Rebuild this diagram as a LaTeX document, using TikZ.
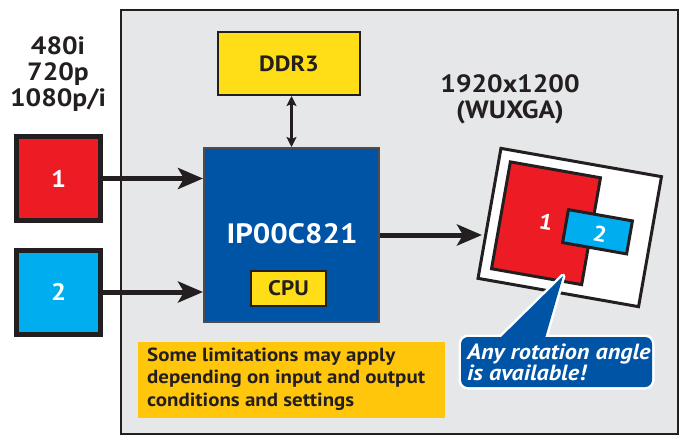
\documentclass[tikz,border=0pt]{standalone}
\usepackage{fontspec}
\setmainfont{PT Sans}[FakeStretch=1.1]
\usetikzlibrary{arrows.meta,calc}
\definecolor{ink}{HTML}{231F20}
\definecolor{panelgray}{HTML}{E6E7E8}
\definecolor{boxred}{HTML}{ED1C24}
\definecolor{boxcyan}{HTML}{00AEEF}
\definecolor{chipblue}{HTML}{0054A6}
\definecolor{memyellow}{HTML}{FFDE17}
\definecolor{noteyellow}{HTML}{FFC60B}
\tikzset{
  panelbox/.style={draw=ink, line width=2pt, fill=panelgray, inner sep=0pt},
  srcbox/.style={draw=ink, line width=5pt, inner sep=0pt, minimum width=84pt, minimum height=84pt,
     text=white, font=\fontsize{24}{24}\selectfont\bfseries},
  chipbox/.style={draw=ink!80, line width=2pt, fill=chipblue, inner sep=0pt},
  membox/.style={draw=ink, line width=2pt, fill=memyellow, inner sep=0pt, text=ink},
  dispbox/.style={draw=ink, line width=3pt, inner sep=0pt},
  bigarrow/.style={draw=ink, line width=5pt, -{Stealth[length=25pt,width=21pt,inset=6pt]}},
  memarrow/.style={draw=ink, line width=2.5pt, {Stealth[length=10pt,width=10pt,inset=2pt]}-{Stealth[length=10pt,width=10pt,inset=2pt]}},
  lbl/.style={text=ink, font=\fontsize{25}{26}\selectfont\bfseries, align=center, inner sep=0pt},
}
\begin{document}
\begin{tikzpicture}[x=1pt,y=-1pt]
\useasboundingbox (0,0) rectangle (684,437);
% panel
\node[panelbox, minimum width=557pt, minimum height=424pt] (panel) at (399.5,222) {};
% format label
\node[lbl] (fmt) at (58,74) {480i\\720p\\1080p/i};
% inputs
\node[srcbox, fill=boxred] (in1) at (58.5,178.5) {1};
\node[srcbox, fill=boxcyan] (in2) at (58.5,292) {2};
% chip
\node[chipbox, minimum width=175pt, minimum height=174pt] (ip) at (291.5,235) {};
\node[text=white, font=\fontsize{28}{28}\selectfont\bfseries, inner sep=0pt] (ipt) at (292,234) {IP00C821};
\node[membox, minimum width=75pt, minimum height=35pt, font=\fontsize{21}{21}\selectfont\bfseries] (cpu) at (288.5,288.5) {CPU};
% memory
\node[membox, minimum width=142pt, minimum height=63pt, font=\fontsize{22}{22}\selectfont\bfseries] (ddr) at (289,63.5) {DDR3};
\draw[memarrow] (ip.north |- ddr.south) -- (ip.north);
% input arrows
\draw[bigarrow] (in1.east) -- (in1.east -| ip.west);
\draw[bigarrow] (in2.east) -- (in2.east -| ip.west);
% resolution label
\node[lbl] (res) at (510,99) {1920x1200\\(WUXGA)};
% rotated display
\node[dispbox, fill=white, rotate=-10, minimum width=163pt, minimum height=132pt] (disp) at (569.75,227.5) {};
\node[dispbox, fill=boxred, rotate=-10, minimum width=91.5pt, minimum height=108.5pt] (win1) at (546,223.25) {};
\node[dispbox, fill=boxcyan, rotate=-10, minimum width=65pt, minimum height=33.5pt] (win2) at (597.5,231.75) {};
\node[text=white, rotate=-10, font=\fontsize{22}{22}\selectfont\bfseries, inner sep=0pt] (w1t) at (546,222) {1};
\node[text=white, rotate=-10, font=\fontsize{22}{22}\selectfont\bfseries, inner sep=0pt] (w2t) at (600,234) {2};
\coordinate (dispin) at (482,235);
\draw[bigarrow] (ip.east) -- (dispin);
% callout
\coordinate (ctip) at (563,276);
\coordinate (cb1) at (493,345);
\coordinate (cb2) at (543,345);
\draw[white, line width=5pt, line join=round] (ctip) -- (cb1) -- (cb2) -- cycle;
\draw[white, line width=5pt, rounded corners=7pt] (461,337) rectangle (652,387);
\fill[chipblue] (ctip) -- (cb1) -- (cb2) -- cycle;
\node[fill=chipblue, rounded corners=7pt, minimum width=191pt, minimum height=50pt, inner sep=0pt] (call) at (556.5,362) {};
\node[text=white, font=\fontsize{22}{19}\selectfont\bfseries\itshape, align=left, inner sep=0pt, anchor=west] (callt) at (467,362) {Any rotation angle\\is available!};
% note
\node[fill=noteyellow, minimum width=307pt, minimum height=76pt, inner sep=0pt] (note) at (291.5,380) {};
\node[text=ink, font=\fontsize{19}{22.5}\selectfont\bfseries, align=left, inner sep=0pt, anchor=west] (notet) at (147,379) {Some limitations may apply\\depending on input and output\\conditions and settings};
\end{tikzpicture}
\end{document}
